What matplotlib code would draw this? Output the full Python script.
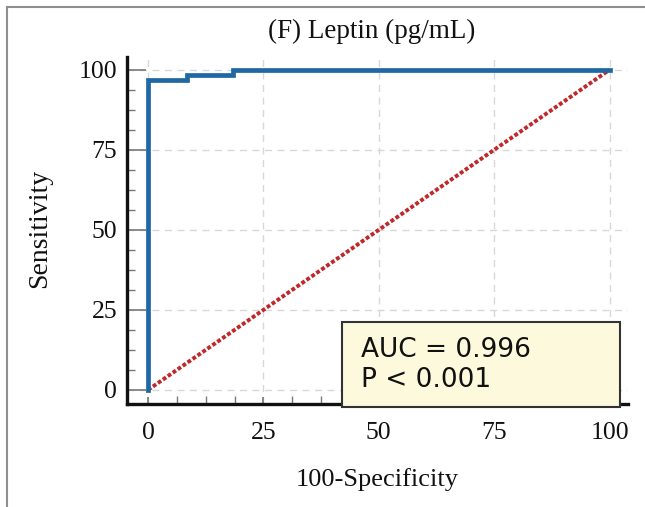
import matplotlib.pyplot as plt
from matplotlib.patches import Rectangle
from matplotlib.lines import Line2D
from matplotlib.ticker import MultipleLocator, AutoMinorLocator

# ROC curve points
fpr = [0, 0, 8.5, 8.5, 18.5, 18.5, 100]
tpr = [0, 96.8, 96.8, 98.4, 98.4, 100, 100]
ref_x = [0, 100]
ref_y = [0, 100]
ticks = [0, 25, 50, 75, 100]
auc_txt = 'AUC = 0.996\nP < 0.001'

serif = ['Liberation Serif', 'DejaVu Serif']
sans = ['DejaVu Sans']

fig = plt.figure(figsize=(6.45, 5.07), dpi=100)
ax = fig.add_axes([127 / 645, 1 - 404 / 507, 501 / 645, 347 / 507])

ax.plot(ref_x, ref_y, color='#c0282a', lw=2.8, ls=(0, (1, 0.55)), zorder=2)
ax.plot(fpr, tpr, color='#1f68a3', lw=3.4, zorder=3, solid_joinstyle='miter')

ax.set_xlim(-4.55, 104)
ax.set_ylim(-4.4, 104)
ax.xaxis.set_major_locator(MultipleLocator(25))
ax.yaxis.set_major_locator(MultipleLocator(25))
ax.xaxis.set_minor_locator(AutoMinorLocator(4))
ax.yaxis.set_minor_locator(AutoMinorLocator(4))
ax.grid(True, which='major', color='#d8d8d8', ls=(0, (5, 4)), lw=1)
ax.set_axisbelow(True)

for s in ['top', 'right']:
    ax.spines[s].set_visible(False)
for s in ['left', 'bottom']:
    ax.spines[s].set_linewidth(2.4)
    ax.spines[s].set_color('#111111')

ax.tick_params(axis='y', which='major', direction='in', length=14, width=1.2, color='#777777', pad=7)
ax.tick_params(axis='x', which='major', direction='in', length=5, width=1.2, color='#777777', pad=13)
ax.tick_params(which='minor', direction='in', length=5.5, width=1, color='#777777')
ax.set_xticks(ticks)
ax.set_yticks(ticks)
for lab in ax.get_xticklabels() + ax.get_yticklabels():
    lab.set_family(serif)
    lab.set_fontsize(18.5)
    lab.set_color('#111111')

ax.set_xlabel('100-Specificity', family=serif, fontsize=19, labelpad=17, color='#111111')
fig.text(40 / 645, 1 - 228 / 507, 'Sensitivity', family=serif, fontsize=20, rotation=90,
         ha='center', va='center', color='#111111')
fig.text(372 / 645, 1 - 31 / 507, '(F) Leptin (pg/mL)', family=serif, fontsize=19.5,
         ha='center', va='center', color='#111111')

# AUC box
box = Rectangle((0.429, -0.009), 0.555, 0.245, transform=ax.transAxes, facecolor='#fdf9dc',
                edgecolor='#333333', lw=1.5, clip_on=False, zorder=5)
ax.add_patch(box)
ax.text(0.467, 0.113, auc_txt, transform=ax.transAxes, family=sans, fontsize=19,
        va='center', ha='left', linespacing=1.22, color='#111111', zorder=6)

# outer gray frame
fig.add_artist(Line2D([7 / 645, 7 / 645], [0, 1 - 7 / 507], color='#8f8f8f', lw=1.5))
fig.add_artist(Line2D([7 / 645, 1], [1 - 7 / 507, 1 - 7 / 507], color='#8f8f8f', lw=1.5))

fig.savefig('out.png', dpi=100)
